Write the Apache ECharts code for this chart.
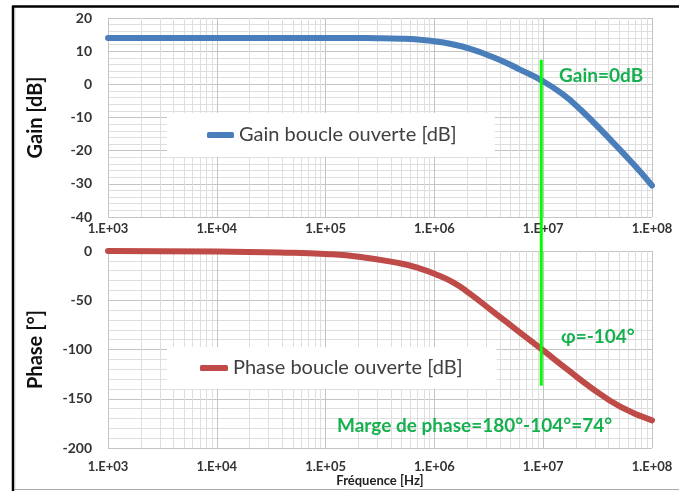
<!DOCTYPE html>
<html>
<head>
<meta charset="utf-8">
<script src="https://cdn.jsdelivr.net/npm/echarts@6/dist/echarts.min.js"></script>
<style>
  html, body { margin: 0; padding: 0; background: #fff; }
  #chart { width: 679px; height: 491px; }
</style>
</head>
<body>
<div id="chart"></div>
<script>
// valeurs (Bode boucle ouverte)
const gainFreq = [1e3, 1e4, 1e5, 3e5, 5e5, 7.4e5, 1e6, 1.5e6, 2.1e6, 3e6, 4.3e6, 6e6, 1e7, 1.5e7, 2.2e7, 3.8e7, 6.8e7, 1e8];
const gainDb = [14, 14, 14, 13.9, 13.75, 13.45, 13.0, 12.0, 10.8, 9.0, 6.9, 4.6, 0.9, -2.9, -7.6, -15.4, -24.2, -30.5];

const phaseFreq = [1e3, 1e4, 3.8e4, 1e5, 2.1e5, 4.8e5, 7e5, 1e6, 1.5e6, 2.1e6, 3.5e6, 6e6, 1e7, 1.7e7, 2.7e7, 5.1e7, 1e8];
const phaseDeg = [0, -0.5, -1.5, -3, -6, -12.5, -17, -23, -32, -43, -62, -82, -101, -121, -138, -158, -172];

// ligne verte (fréquence de coupure à 0 dB)
const crossFreq = [9.6e6, 9.6e6];
const crossLevel = [90.3, 14.5]; // en % de la hauteur totale des deux graphes

// graduations secondaires de l'axe log
const decadeStarts = [1e3, 1e4, 1e5, 1e6, 1e7];
const mantissas = [2, 3, 4, 5, 6, 7, 8, 9];

const minorFreq = [];
decadeStarts.forEach(function (d) {
    mantissas.forEach(function (m) { minorFreq.push(m * d); });
});

const FONT = 'Lato';
const gridMajor = '#c4c4c4';
const gridMinor = '#dedede';
const green = '#17b04f';

function pair(xs, ys) {
    return xs.map(function (x, i) { return [x, ys[i]]; });
}

function xAxisFor(gridIndex, margin, showName) {
    return {
        type: 'log',
        logBase: 10,
        gridIndex: gridIndex,
        min: 1e3,
        max: 1e8,
        splitNumber: 5,
        axisLine: { show: false },
        axisTick: { show: false },
        splitLine: { show: true, lineStyle: { color: gridMajor, width: 1 } },
        axisLabel: {
            margin: margin,
            fontFamily: FONT,
            fontWeight: 'bold',
            fontSize: 13,
            color: '#333',
            formatter: function (v) {
                return '1.E+' + String(Math.round(Math.log10(v))).padStart(2, '0');
            }
        },
        name: showName ? 'Fréquence [Hz]' : '',
        nameLocation: 'middle',
        nameGap: 24,
        nameTextStyle: { fontFamily: FONT, fontWeight: 'bold', fontSize: 13, color: '#222' }
    };
}

function yAxisFor(gridIndex, min, max, interval, name) {
    return {
        type: 'value',
        gridIndex: gridIndex,
        min: min,
        max: max,
        interval: interval,
        axisLine: { show: false },
        axisTick: { show: false },
        splitLine: { show: true, lineStyle: { color: gridMajor, width: 1 } },
        minorTick: { show: false, splitNumber: 5 },
        minorSplitLine: { show: true, lineStyle: { color: gridMinor, width: 1 } },
        axisLabel: { margin: 16, fontFamily: FONT, fontWeight: 'bold', fontSize: 14, color: '#333' },
        name: name,
        nameLocation: 'middle',
        nameGap: 62,
        nameTextStyle: { fontFamily: FONT, fontWeight: 'bold', fontSize: 20, color: '#111' }
    };
}

function minorLines(xIdx, yIdx) {
    return {
        type: 'line',
        xAxisIndex: xIdx,
        yAxisIndex: yIdx,
        data: [],
        silent: true,
        z: 1,
        markLine: {
            z: 1,
            silent: true,
            symbol: 'none',
            label: { show: false },
            lineStyle: { color: gridMinor, width: 1, type: 'solid' },
            emphasis: { disabled: true },
            animation: false,
            data: minorFreq.map(function (f) { return { xAxis: f }; })
        }
    };
}

const legendText = { fontFamily: FONT, fontSize: 20, color: '#404040', lineHeight: 16 };

const option = {
    animation: false,
    grid: [
        { left: 108, right: 27, top: 18, height: 199 },
        { left: 108, right: 27, top: 251, height: 197 },
        { left: 108, right: 27, top: 18, bottom: 43 }
    ],
    xAxis: [
        xAxisFor(0, 5, false),
        xAxisFor(1, 12, true),
        { type: 'log', gridIndex: 2, min: 1e3, max: 1e8, show: false }
    ],
    yAxis: [
        yAxisFor(0, -40, 20, 10, 'Gain [dB]'),
        yAxisFor(1, -200, 0, 50, 'Phase [°]'),
        { type: 'value', gridIndex: 2, min: 0, max: 100, show: false }
    ],
    legend: [
        {
            left: 167, top: 113, z: 4,
            backgroundColor: '#fff',
            padding: [12, 38, 12, 40],
            itemWidth: 27, itemHeight: 6, icon: 'roundRect',
            textStyle: legendText,
            data: ['Gain boucle ouverte [dB]']
        },
        {
            left: 167, top: 347, z: 4,
            backgroundColor: '#fff',
            padding: [11, 34, 11, 33],
            itemWidth: 28, itemHeight: 6, icon: 'roundRect',
            textStyle: legendText,
            data: ['Phase boucle ouverte [dB]']
        }
    ],
    series: [
        minorLines(0, 0),
        minorLines(1, 1),
        {
            name: 'Gain boucle ouverte [dB]',
            type: 'line',
            xAxisIndex: 0, yAxisIndex: 0,
            data: pair(gainFreq, gainDb),
            smooth: 0.5,
            symbol: 'none',
            z: 3,
            lineStyle: { color: '#4a7ebb', width: 6, cap: 'round', join: 'round' },
            itemStyle: { color: '#4a7ebb' }
        },
        {
            name: 'Phase boucle ouverte [dB]',
            type: 'line',
            xAxisIndex: 1, yAxisIndex: 1,
            data: pair(phaseFreq, phaseDeg),
            smooth: 0.5,
            symbol: 'none',
            z: 3,
            lineStyle: { color: '#be4b48', width: 6, cap: 'round', join: 'round' },
            itemStyle: { color: '#be4b48' }
        },
        {
            name: 'crossover',
            type: 'line',
            xAxisIndex: 2, yAxisIndex: 2,
            data: pair(crossFreq, crossLevel),
            symbol: 'none',
            z: 6,
            clip: false,
            lineStyle: { color: '#00ff00', width: 3 }
        }
    ],
    graphic: [
        { type: 'line', z: 10, shape: { x1: 12, y1: 6.5, x2: 679, y2: 6.5 }, style: { stroke: '#000', lineWidth: 2.5 } },
        { type: 'line', z: 10, shape: { x1: 13, y1: 6, x2: 13, y2: 491 }, style: { stroke: '#000', lineWidth: 2.5 } },
        { type: 'line', z: 10, shape: { x1: 14.8, y1: 8, x2: 14.8, y2: 491 }, style: { stroke: '#bbb', lineWidth: 1 } },
        { type: 'line', z: 10, shape: { x1: 14, y1: 489.5, x2: 679, y2: 489.5 }, style: { stroke: '#aaa', lineWidth: 1 } },
        { type: 'text', z: 10, left: 559, top: 66, style: { text: 'Gain=0dB', fill: green, font: 'bold 19px ' + FONT } },
        { type: 'text', z: 10, left: 561, top: 327, style: { text: 'φ=-104°', fill: green, font: 'bold 19px ' + FONT } },
        { type: 'text', z: 10, left: 337, top: 416, style: { text: 'Marge de phase=180°-104°=74°', fill: green, font: 'bold 19px ' + FONT } }
    ]
};

const myChart = echarts.init(document.getElementById('chart'));
myChart.setOption(option);
</script>
</body>
</html>
